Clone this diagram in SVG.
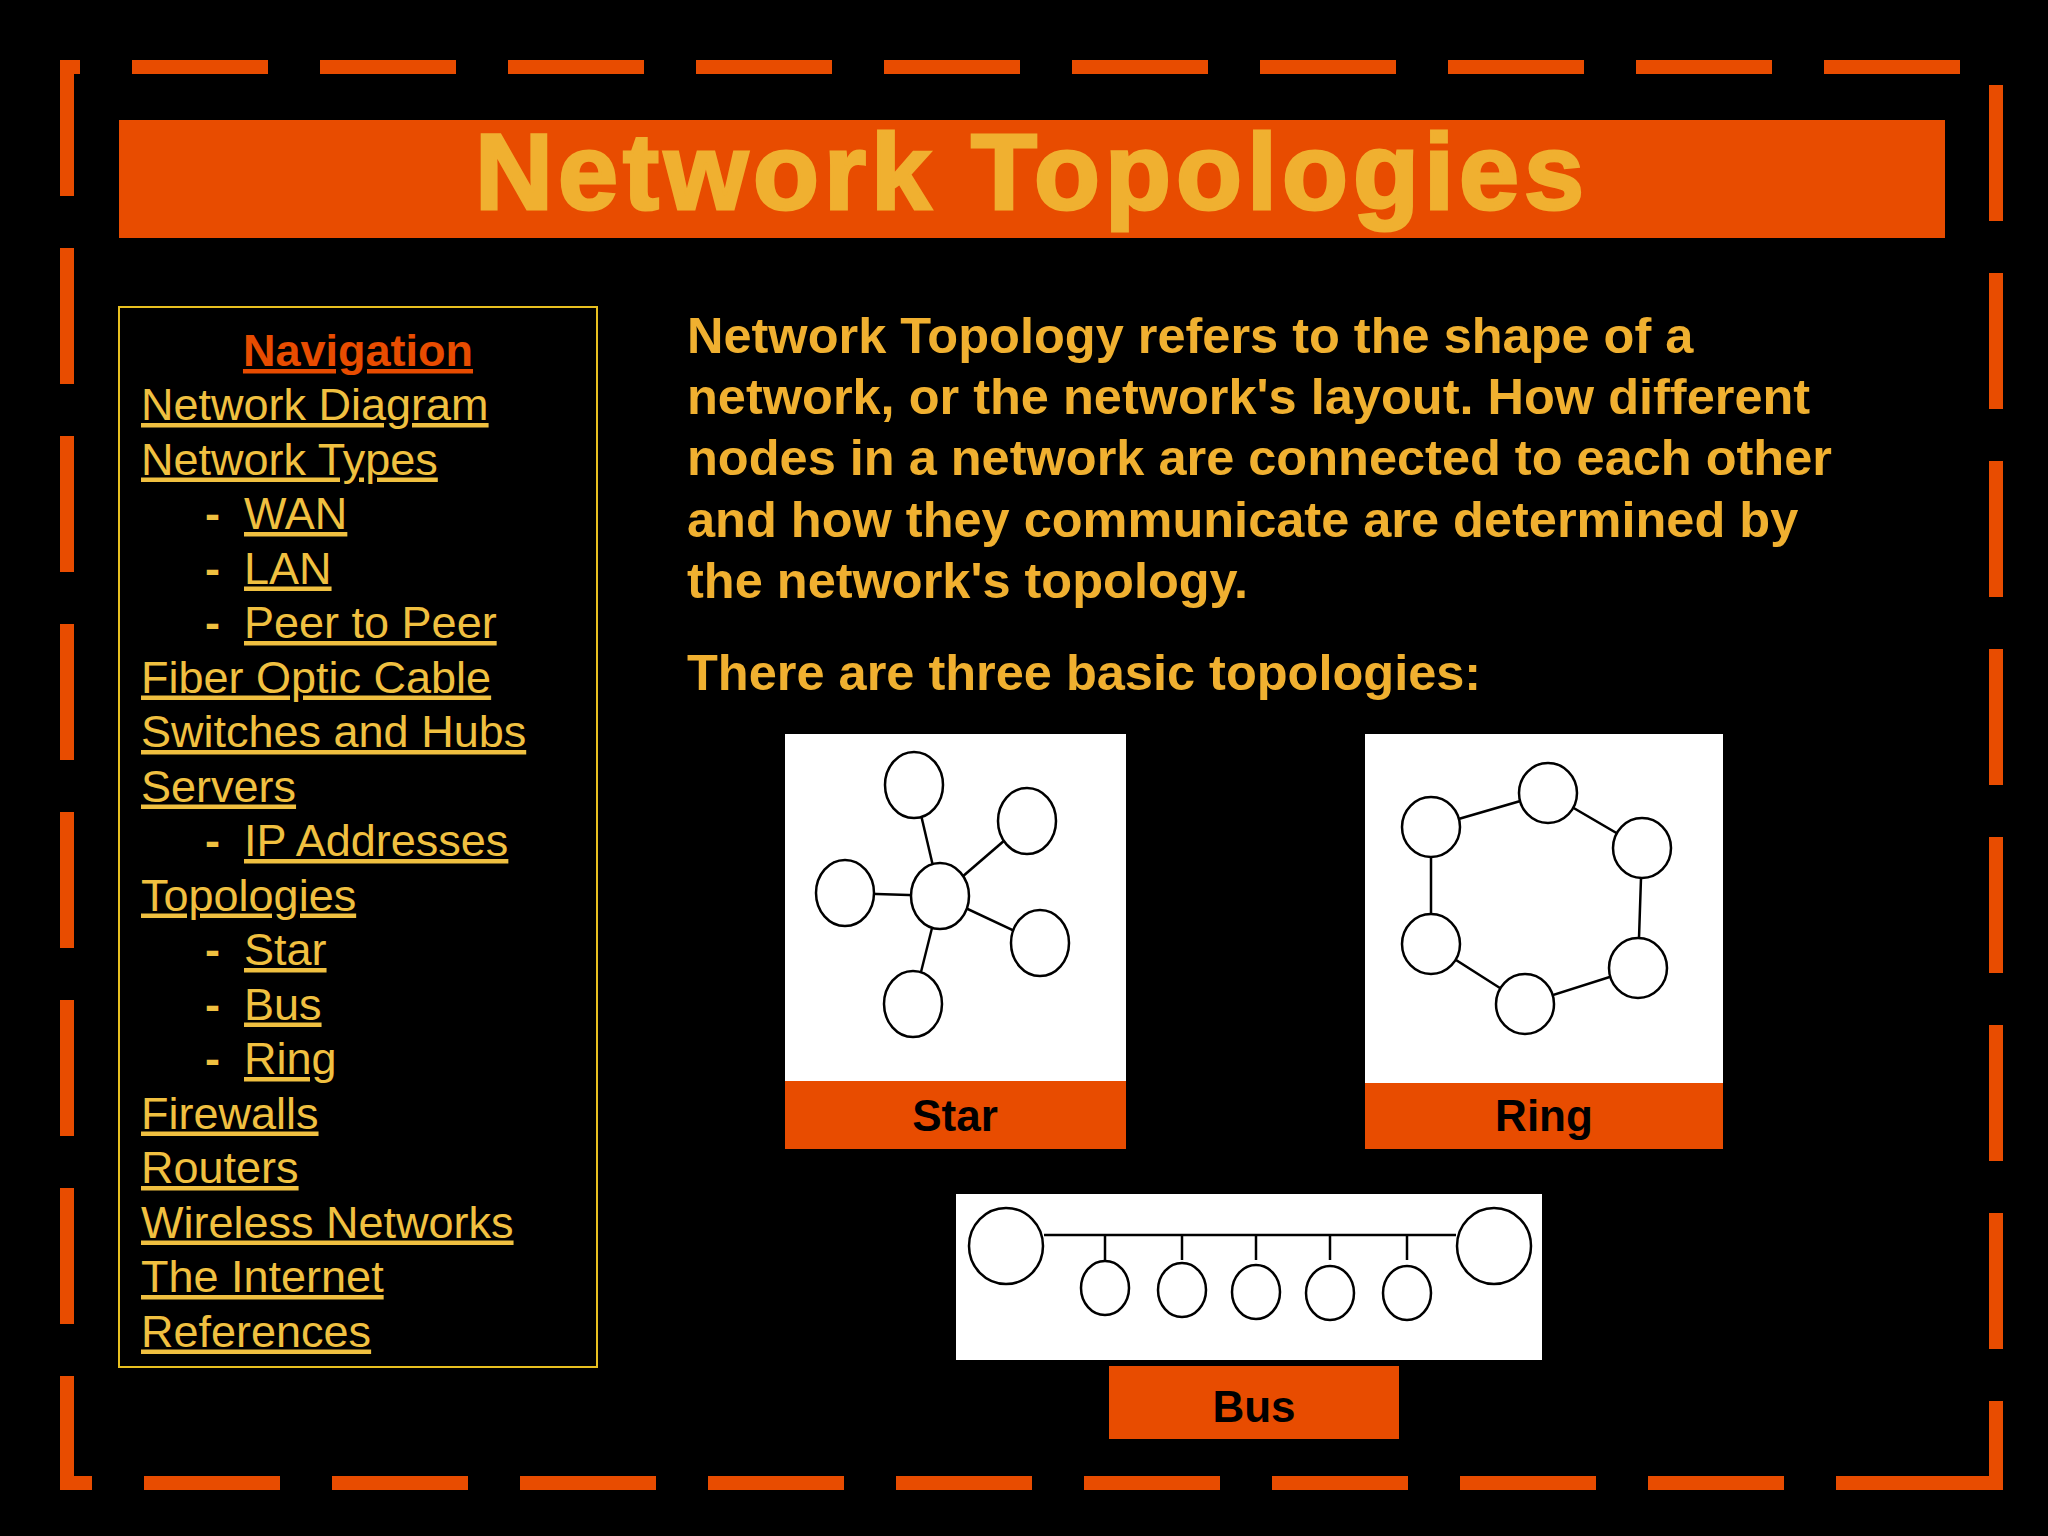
<svg xmlns="http://www.w3.org/2000/svg" width="2048" height="1536" viewBox="0 0 2048 1536">
<style>
.nav{font-family:"Liberation Sans",Arial,sans-serif;font-size:45px;fill:#F0C040;text-decoration:underline}
.dash{font-family:"Liberation Sans",Arial,sans-serif;font-size:45px;fill:#F0C040;font-weight:bold}
.para{font-family:"Liberation Sans",Arial,sans-serif;font-size:50.5px;font-weight:bold;fill:#F0B030}
.lbl{font-family:"Liberation Sans",Arial,sans-serif;font-size:44px;font-weight:bold;fill:#000;text-anchor:middle}
.nd{fill:#fff;stroke:#000;stroke-width:2.5}
.ln{stroke:#000;stroke-width:2.5}
.bd{stroke:#E84C00;stroke-width:14;fill:none;stroke-dasharray:136 52}
</style>
<rect width="2048" height="1536" fill="#000"/>
<g id="border">
<path class="bd" d="M60,67 H2003" stroke-dashoffset="116"/>
<path class="bd" d="M67,60 V1490" stroke-dashoffset="0"/>
<path class="bd" d="M1996,60 V1490" stroke-dashoffset="163"/>
<path class="bd" d="M60,1483 H1943" stroke-dashoffset="104"/>
<path d="M1943,1483 H2003" stroke="#E84C00" stroke-width="14"/>
</g>
<g id="title">
<rect x="119" y="120" width="1826" height="118" fill="#E84C00"/>
<text x="1032" y="209" font-family="Liberation Sans,Arial,sans-serif" font-size="108" font-weight="bold" fill="#F0B030" stroke="#F0B030" stroke-width="3" letter-spacing="5" text-anchor="middle">Network Topologies</text>
</g>
<g id="navigation">
<rect x="119" y="307" width="478" height="1060" fill="none" stroke="#E8C020" stroke-width="2"/>
<text x="358" y="366" font-family="Liberation Sans,Arial,sans-serif" font-size="45" font-weight="bold" fill="#E84C00" text-anchor="middle" text-decoration="underline">Navigation</text>
<text class="nav" x="141" y="420">Network Diagram</text>
<text class="nav" x="141" y="474.5">Network Types</text>
<text class="dash" x="205" y="529">-</text><text class="nav" x="244" y="529">WAN</text>
<text class="dash" x="205" y="583.5">-</text><text class="nav" x="244" y="583.5">LAN</text>
<text class="dash" x="205" y="638">-</text><text class="nav" x="244" y="638">Peer to Peer</text>
<text class="nav" x="141" y="692.5">Fiber Optic Cable</text>
<text class="nav" x="141" y="747">Switches and Hubs</text>
<text class="nav" x="141" y="801.5">Servers</text>
<text class="dash" x="205" y="856">-</text><text class="nav" x="244" y="856">IP Addresses</text>
<text class="nav" x="141" y="910.5">Topologies</text>
<text class="dash" x="205" y="965">-</text><text class="nav" x="244" y="965">Star</text>
<text class="dash" x="205" y="1019.5">-</text><text class="nav" x="244" y="1019.5">Bus</text>
<text class="dash" x="205" y="1074">-</text><text class="nav" x="244" y="1074">Ring</text>
<text class="nav" x="141" y="1128.5">Firewalls</text>
<text class="nav" x="141" y="1183">Routers</text>
<text class="nav" x="141" y="1237.5">Wireless Networks</text>
<text class="nav" x="141" y="1292">The Internet</text>
<text class="nav" x="141" y="1346.5">References</text>
</g>
<g id="description">
<text class="para" x="687" y="353">Network Topology refers to the shape of a</text>
<text class="para" x="687" y="414">network, or the network's layout. How different</text>
<text class="para" x="687" y="475">nodes in a network are connected to each other</text>
<text class="para" x="687" y="537">and how they communicate are determined by</text>
<text class="para" x="687" y="598">the network's topology.</text>
<text class="para" x="687" y="690">There are three basic topologies:</text>
</g>
<g id="star">
<rect x="785" y="734" width="341" height="347" fill="#fff"/>
<rect x="785" y="1081" width="341" height="68" fill="#E84C00"/>
<text class="lbl" x="955" y="1131">Star</text>
</g>
<g id="ring">
<rect x="1365" y="734" width="358" height="349" fill="#fff"/>
<rect x="1365" y="1083" width="358" height="66" fill="#E84C00"/>
<text class="lbl" x="1544" y="1131">Ring</text>
</g>
<g id="bus">
<rect x="956" y="1194" width="586" height="166" fill="#fff"/>
<rect x="1109" y="1366" width="290" height="73" fill="#E84C00"/>
<text class="lbl" x="1254" y="1422">Bus</text>
</g>
<g id="connectors">
<line class="ln" x1="940" y1="896" x2="914" y2="785"/>
<line class="ln" x1="940" y1="896" x2="1027" y2="821"/>
<line class="ln" x1="940" y1="896" x2="845" y2="893"/>
<line class="ln" x1="940" y1="896" x2="1040" y2="943"/>
<line class="ln" x1="940" y1="896" x2="913" y2="1004"/>
<polygon points="1431,827 1548,793 1642,848 1638,968 1525,1004 1431,944" fill="none" stroke="#000" stroke-width="2.5"/>
<line class="ln" x1="1044" y1="1235" x2="1456" y2="1235"/>
<line class="ln" x1="1105" y1="1235" x2="1105" y2="1260"/>
<line class="ln" x1="1182" y1="1235" x2="1182" y2="1260"/>
<line class="ln" x1="1256" y1="1235" x2="1256" y2="1260"/>
<line class="ln" x1="1330" y1="1235" x2="1330" y2="1260"/>
<line class="ln" x1="1407" y1="1235" x2="1407" y2="1260"/>
</g>
<g id="star-nodes">
<ellipse class="nd" cx="940" cy="896" rx="29" ry="33"/>
<ellipse class="nd" cx="914" cy="785" rx="29" ry="33"/>
<ellipse class="nd" cx="1027" cy="821" rx="29" ry="33"/>
<ellipse class="nd" cx="845" cy="893" rx="29" ry="33"/>
<ellipse class="nd" cx="1040" cy="943" rx="29" ry="33"/>
<ellipse class="nd" cx="913" cy="1004" rx="29" ry="33"/>
</g>
<g id="ring-nodes">
<ellipse class="nd" cx="1431" cy="827" rx="29" ry="30"/>
<ellipse class="nd" cx="1548" cy="793" rx="29" ry="30"/>
<ellipse class="nd" cx="1642" cy="848" rx="29" ry="30"/>
<ellipse class="nd" cx="1638" cy="968" rx="29" ry="30"/>
<ellipse class="nd" cx="1525" cy="1004" rx="29" ry="30"/>
<ellipse class="nd" cx="1431" cy="944" rx="29" ry="30"/>
</g>
<g id="bus-nodes">
<ellipse class="nd" cx="1006" cy="1246" rx="37" ry="38"/>
<ellipse class="nd" cx="1494" cy="1246" rx="37" ry="38"/>
<ellipse class="nd" cx="1105" cy="1288" rx="24" ry="27"/>
<ellipse class="nd" cx="1182" cy="1290" rx="24" ry="27"/>
<ellipse class="nd" cx="1256" cy="1292" rx="24" ry="27"/>
<ellipse class="nd" cx="1330" cy="1293" rx="24" ry="27"/>
<ellipse class="nd" cx="1407" cy="1293" rx="24" ry="27"/>
</g>
</svg>
